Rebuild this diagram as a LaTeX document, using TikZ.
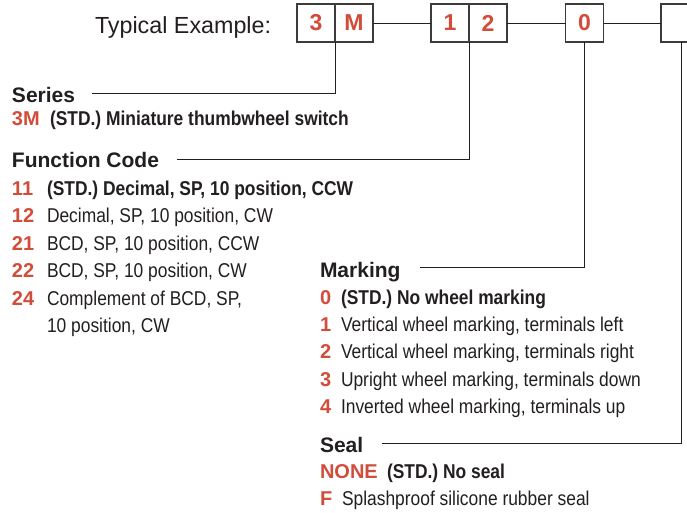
\documentclass[tikz,border=0pt]{standalone}
\usepackage{fontspec}
\setmainfont{Liberation Sans}
\newfontfamily\narrowfont[FakeStretch=0.87]{Liberation Sans}
\definecolor{codered}{RGB}{210,76,58}
\definecolor{ink}{RGB}{35,31,32}
\definecolor{boxline}{RGB}{60,60,60}
\begin{document}
\begin{tikzpicture}[x=1pt,y=-1pt,
  every node/.style={inner sep=0pt,outer sep=0pt,text=ink},
  digbox/.style={draw=boxline,line width=1.3pt,minimum width=38pt,minimum height=38pt,
    text=codered,font=\fontsize{23}{27}\selectfont\bfseries},
  conn/.style={draw=ink,line width=1pt},
  hd/.style={anchor=base west,font=\fontsize{21}{25}\selectfont\bfseries},
  code/.style={anchor=base west,text=codered,font=\fontsize{20}{24}\selectfont\bfseries},
  desc/.style={anchor=base west,font=\narrowfont\fontsize{20}{24}\selectfont},
  descb/.style={anchor=base west,font=\narrowfont\bfseries\fontsize{20}{24}\selectfont}]
\useasboundingbox (0,0) rectangle (687,512);
\fill[white] (0,0) rectangle (687,512);

% title
\node[anchor=base west,font=\fontsize{23.3}{28}\selectfont] (title) at (95,33) {Typical Example:};

% boxes
\node[digbox] (b3) at (316,23) {3};
\node[digbox] (bM) at (354,23) {M};
\node[digbox] (b1) at (450,23) {1};
\node[digbox] (b2) at (488,23) {2};
\node[digbox] (b0) at (584.5,23) {0};
\node[digbox,minimum width=40pt] (b4) at (681,23) {};

\draw[conn] (bM.east) -- (b1.west);
\draw[conn] (b2.east) -- (b0.west);
\draw[conn] (b0.east) -- (b4.west);

% leader lines
\coordinate (seriesEnd) at (92,93);
\coordinate (fcEnd) at (177,159);
\coordinate (mkEnd) at (420,267);
\coordinate (sealEnd) at (382,443);
\draw[conn] (b3.south east) |- (seriesEnd);
\draw[conn] (b1.south east) |- (fcEnd);
\draw[conn] (b0.south) |- (mkEnd);
\draw[conn] (b4.south) |- (sealEnd);

% Series
\node[hd] (series) at (12,102) {Series};
\node[code] (c3m) at (12,125) {3M};
\node[descb] (d3m) at (50,125) {(STD.) Miniature thumbwheel switch};

% Function code
\node[hd] (fc) at (12,167) {Function Code};
\node[code] (c11) at (12,195) {11};
\node[descb] (d11) at (47,195) {(STD.) Decimal, SP, 10 position, CCW};
\node[code] (c12) at (12,222) {12};
\node[desc] (d12) at (47,222) {Decimal, SP, 10 position, CW};
\node[code] (c21) at (12,250) {21};
\node[desc] (d21) at (47,250) {BCD, SP, 10 position, CCW};
\node[code] (c22) at (12,277) {22};
\node[desc] (d22) at (47,277) {BCD, SP, 10 position, CW};
\node[code] (c24) at (12,305) {24};
\node[desc] (d24) at (47,305) {Complement of BCD, SP,};
\node[desc] (d24b) at (47,332) {10 position, CW};

% Marking
\node[hd] (mk) at (320,277) {Marking};
\node[code] (m0) at (320,304) {0};
\node[descb] (dm0) at (341,304) {(STD.) No wheel marking};
\node[code] (m1) at (320,331) {1};
\node[desc] (dm1) at (341,331) {Vertical wheel marking, terminals left};
\node[code] (m2) at (320,358) {2};
\node[desc] (dm2) at (341,358) {Vertical wheel marking, terminals right};
\node[code] (m3) at (320,386) {3};
\node[desc] (dm3) at (341,386) {Upright wheel marking, terminals down};
\node[code] (m4) at (320,413) {4};
\node[desc] (dm4) at (341,413) {Inverted wheel marking, terminals up};

% Seal
\node[hd] (seal) at (320,452) {Seal};
\node[code] (snone) at (320,478) {NONE};
\node[descb] (dsnone) at (387,478) {(STD.) No seal};
\node[code] (sf) at (320,505) {F};
\node[desc] (dsf) at (342,505) {Splashproof silicone rubber seal};
\end{tikzpicture}
\end{document}
